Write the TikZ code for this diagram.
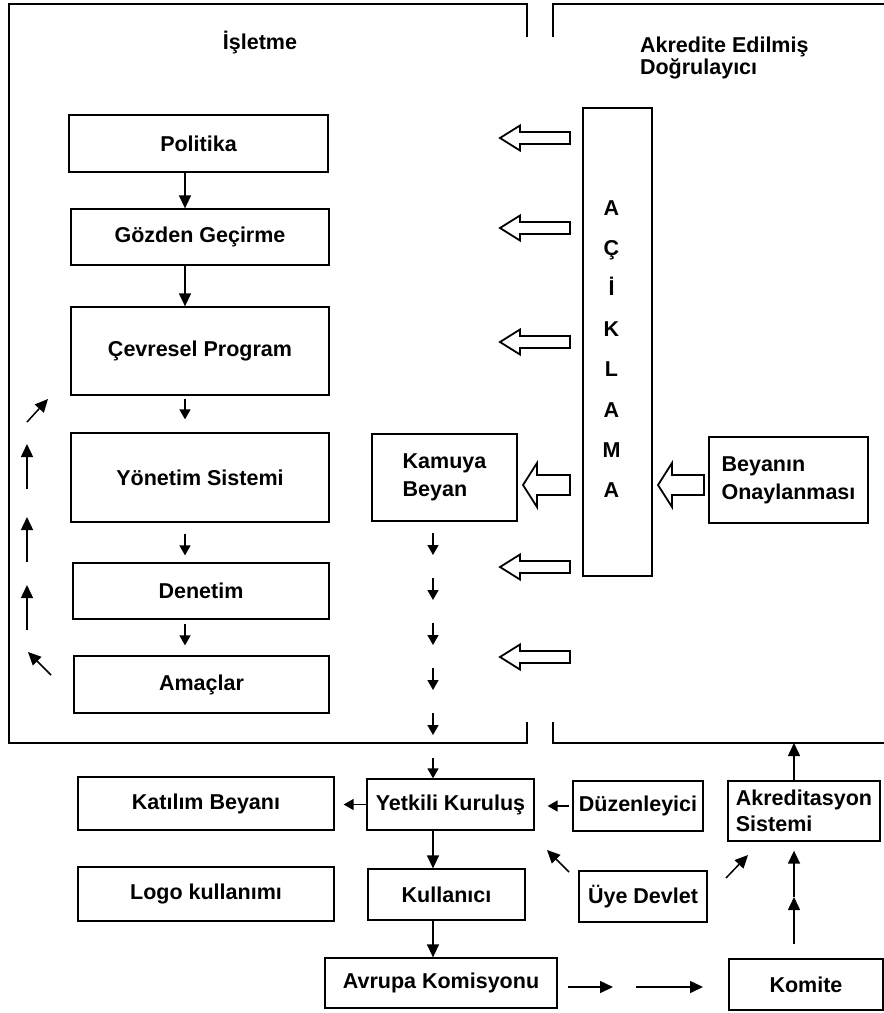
\documentclass[tikz,border=0pt]{standalone}
\usepackage{fontspec}
\setmainfont{Liberation Sans}
\usetikzlibrary{arrows.meta}
\begin{document}
\begin{tikzpicture}[x=1pt,y=-1pt,line width=1.5pt,>={Triangle[length=13pt,width=12pt]},
  font=\bfseries\fontsize{21.5}{28}\selectfont,
  kutu/.style={draw,line width=1.3pt,inner sep=0pt,align=center},
  kisa/.style={->,>={Triangle[length=10pt,width=11pt]}},
  pics/bosok/.style n args={4}{code={\draw[line width=1.8pt,line join=miter](0,0)--(#4,-#3)--(#4,-#2)--(#1,-#2)--(#1,#2)--(#4,#2)--(#4,#3)--cycle;}}]
\useasboundingbox(0,0)rectangle(884,1013);
% cerceveler
\draw[line width=1.3pt](527,37)--(527,4)--(9,4)--(9,743)--(527,743)--(527,722);
\draw[line width=1.3pt](553,37)--(553,4)--(884,4) (553,722)--(553,743)--(884,743);
\coordinate(sagalt)at(553,743);
\coordinate(kolL)at(185,0);
\coordinate(kolM)at(433,0);
\coordinate(kolR)at(794,0);
\node(isletme)at(260,43){İşletme};
\node[anchor=west,align=left,font=\bfseries\fontsize{21.5}{22}\selectfont](dogrulayici)at(636,58){Akredite Edilmiş\\Doğrulayıcı};
% isletme kutulari
\node[kutu,minimum width=259,minimum height=57](politika)at(198.5,143.5){Politika};
\node[kutu,minimum width=258,minimum height=56](gozden)at(200,237){Gözden Geçirme};
\node[kutu,minimum width=258,minimum height=88](cevresel)at(200,351){Çevresel Program};
\node[kutu,minimum width=258,minimum height=89](yonetim)at(200,477.5){Yönetim Sistemi};
\node[kutu,minimum width=256,minimum height=56](denetim)at(201,591){Denetim};
\node[kutu,minimum width=255,minimum height=57](amaclar)at(201.5,684.5){Amaçlar};
\node[kutu,minimum width=145,minimum height=87,align=left](kamuya)at(444.5,477.5){Kamuya\\Beyan};
\node[kutu,minimum width=69,minimum height=468](aciklama)at(617.5,342){};
\node[align=center,inner sep=0pt,font=\bfseries\fontsize{21.5}{40.4}\selectfont](harfler)at([xshift=-6pt,yshift=-7pt]aciklama.center){A\\Ç\\İ\\K\\L\\A\\M\\A};
\node[kutu,minimum width=159,minimum height=86,align=left](beyanin)at(788.5,480){Beyanın\\Onaylanması};
% alt kutular
\node[kutu,minimum width=256,minimum height=53](katilim)at(206,803.5){Katılım Beyanı};
\node[kutu,minimum width=256,minimum height=54](logo)at(206,894){Logo kullanımı};
\node[kutu,minimum width=167,minimum height=51](yetkili)at(450.5,804.5){Yetkili Kuruluş};
\node[kutu,minimum width=157,minimum height=51](kullanici)at(446.5,894.5){Kullanıcı};
\node[kutu,minimum width=232,minimum height=50](avrupa)at(441,983){Avrupa Komisyonu};
\node[kutu,minimum width=130,minimum height=50](duzen)at(638,806){Düzenleyici};
\node[kutu,minimum width=128,minimum height=51](uye)at(643,896.5){Üye Devlet};
\node[kutu,minimum width=152,minimum height=60,align=left,font=\bfseries\fontsize{21.5}{26}\selectfont](akred)at(804,811){Akreditasyon\\Sistemi};
\node[kutu,minimum width=154,minimum height=51](komite)at(806,984.5){Komite};
% bos oklar
\foreach \y in {138,228,342,567,657}\pic at(500,\y){bosok={70}{6}{12.5}{20}};
\pic at(523,485){bosok={47}{10}{22}{14}};
\pic at(658,485){bosok={46}{10}{22}{14}};
% akis oklari
\draw[->](politika.south -| kolL)--(gozden.north -| kolL);
\draw[->](gozden.south -| kolL)--(cevresel.north -| kolL);
\draw[kisa,shorten <=3pt,shorten >=13pt](cevresel.south -| kolL)--(yonetim.north -| kolL);
\draw[kisa,shorten <=11pt,shorten >=7pt](yonetim.south -| kolL)--(denetim.north -| kolL);
\draw[kisa,shorten <=4pt,shorten >=10pt](denetim.south -| kolL)--(amaclar.north -| kolL);
% geri besleme
\coordinate(g0)at(51,675);
\coordinate(g1)at(28,652);
\draw[->](g0)--(g1);
\foreach \y [count=\i] in {630,562,489}{
  \coordinate(ga\i)at(27,\y);
  \coordinate(gb\i)at(27,\y-45);
  \draw[->](ga\i)--(gb\i);}
\coordinate(g8)at(27,422);
\coordinate(g9)at(48,399);
\draw[->](g8)--(g9);
% kamuya beyan zinciri
\foreach \y [count=\i] in {533,578,623,668,713}{
  \coordinate(za\i)at(433,\y);
  \coordinate(zb\i)at(433,\y+22);
  \draw[kisa](za\i)--(zb\i);}
\coordinate(ys)at(433,758);
\draw[kisa](ys)--(yetkili.north -| kolM);
\draw[kisa,shorten >=9pt](yetkili.west)--(yetkili.west -| katilim.east);
\draw[kisa,shorten <=3pt,shorten >=13pt](duzen.west)--(duzen.west -| yetkili.east);
\draw[->](yetkili.south -| kolM)--(kullanici.north -| kolM);
\draw[->](kullanici.south -| kolM)--(avrupa.north -| kolM);
\coordinate(u1)at(569,872);
\coordinate(u2)at(547,850);
\draw[->](u1)--(u2);
\coordinate(u3)at(726,878);
\coordinate(u4)at(748,855);
\draw[->](u3)--(u4);
\coordinate(h1)at(568,987);
\coordinate(h2)at(613,987);
\coordinate(h3)at(636,987);
\coordinate(h4)at(703,987);
\draw[->](h1)--(h2);
\draw[->](h3)--(h4);
\coordinate(k1)at(794,897);
\draw[->,shorten <=14pt](komite.north -| kolR)--(k1);
\draw[->,shorten >=9pt](k1)--(akred.south -| kolR);
\draw[->](akred.north -| kolR)--(sagalt -| kolR);
\end{tikzpicture}
\end{document}
